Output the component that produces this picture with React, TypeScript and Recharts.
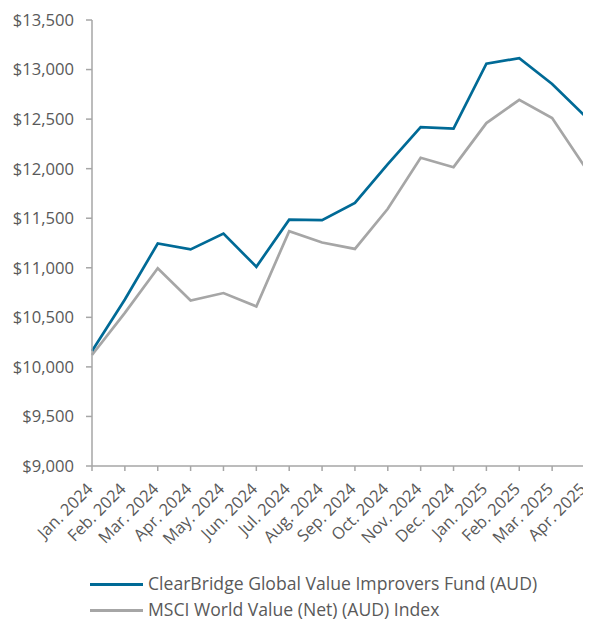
import React from 'react';
import { LineChart, Line, XAxis, YAxis, Legend } from 'recharts';

const months = [
  'Jan. 2024', 'Feb. 2024', 'Mar. 2024', 'Apr. 2024', 'May. 2024', 'Jun. 2024',
  'Jul. 2024', 'Aug. 2024', 'Sep. 2024', 'Oct. 2024', 'Nov. 2024', 'Dec. 2024',
  'Jan. 2025', 'Feb. 2025', 'Mar. 2025', 'Apr. 2025',
];

const fundValues = [
  10160, 10680, 11245, 11185, 11345, 11010, 11485, 11480,
  11655, 12045, 12420, 12405, 13060, 13115, 12855, 12530,
];

const indexValues = [
  10120, 10545, 10995, 10670, 10745, 10610, 11370, 11255,
  11190, 11595, 12110, 12015, 12460, 12695, 12510, 12015,
];

const yTicks = [9000, 9500, 10000, 10500, 11000, 11500, 12000, 12500, 13000, 13500];

const FUND_NAME = 'ClearBridge Global Value Improvers Fund (AUD)';
const INDEX_NAME = 'MSCI World Value (Net) (AUD) Index';

const data = months.map((m, i) => ({
  month: m,
  fund: fundValues[i],
  index: indexValues[i],
}));

const FONT = '"Open Sans", sans-serif';
const TEXT = '#595959';
const AXIS = '#a6a6a6';

const fmt = (v: number) => '$' + v.toLocaleString('en-US');

const XTick = (props: any) => {
  const { x, y, payload } = props;
  return (
    <g transform={`translate(${x + 2},${y + 17})`}>
      <text
        x={0}
        y={0}
        textAnchor="end"
        fill={TEXT}
        fontSize={16.5}
        fontFamily={FONT}
        transform="rotate(-45)"
      >
        {payload.value}
      </text>
    </g>
  );
};

const renderLegend = () => (
  <div style={{ paddingLeft: 82, fontFamily: FONT, fontSize: 17.6, color: TEXT, lineHeight: 1.1 }}>
    {[
      { name: FUND_NAME, color: '#006a96' },
      { name: INDEX_NAME, color: '#a6a6a6' },
    ].map((item) => (
      <div key={item.name} style={{ display: 'flex', alignItems: 'center', height: 26 }}>
        <span
          style={{
            display: 'inline-block',
            width: 53,
            height: 3,
            background: item.color,
            marginRight: 5,
          }}
        />
        <span>{item.name}</span>
      </div>
    ))}
  </div>
);

export default function App() {
  return (
    <div style={{ width: 583, height: 613 }}>
      <LineChart
        width={583}
        height={613}
        data={data}
        margin={{ top: 12, right: 6, bottom: 0, left: 0 }}
      >
        <XAxis
          dataKey="month"
          interval={0}
          stroke={AXIS}
          strokeWidth={1.5}
          tickSize={5}
          tick={<XTick />}
          height={103}
          padding={{ left: 0, right: 0 }}
        />
        <YAxis
          domain={[9000, 13500]}
          ticks={yTicks}
          tickFormatter={fmt}
          stroke={AXIS}
          strokeWidth={1.5}
          tickSize={6}
          tickMargin={12}
          width={84}
          tick={{ fill: TEXT, fontSize: 16.6, fontFamily: FONT }}
          interval={0}
        />
        <Legend verticalAlign="bottom" content={renderLegend} wrapperStyle={{ bottom: -2 }} />
        <Line
          dataKey="index"
          name={INDEX_NAME}
          stroke="#a6a6a6"
          strokeWidth={2.7}
          dot={false}
          isAnimationActive={false}
        />
        <Line
          dataKey="fund"
          name={FUND_NAME}
          stroke="#006a96"
          strokeWidth={2.7}
          dot={false}
          isAnimationActive={false}
        />
      </LineChart>
    </div>
  );
}
